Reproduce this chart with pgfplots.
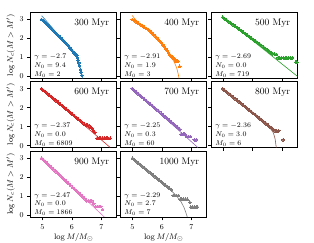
\documentclass[border=0pt]{standalone}
\usepackage{pgfplots}
\pgfplotsset{compat=1.18}
\definecolor{c0}{HTML}{1F77B4}
\definecolor{c1}{HTML}{FF7F0E}
\definecolor{c2}{HTML}{2CA02C}
\definecolor{c3}{HTML}{D62728}
\definecolor{c4}{HTML}{9467BD}
\definecolor{c5}{HTML}{8C564B}
\definecolor{c6}{HTML}{E377C2}
\definecolor{c7}{HTML}{7F7F7F}
\pgfplotsset{
  panel/.style={scale only axis, width=86pt, height=66pt, anchor=north west,
    xmin=4.6, xmax=7.52, ymin=-0.1, ymax=3.38,
    xtick={5,6,7}, ytick={0,1,2,3},
    xtick pos=bottom, ytick pos=left, tick align=outside,
    major tick length=3.5pt, tick style={black, line width=0.6pt},
    axis line style={line width=0.6pt, black},
    ticklabel style={font=\fontsize{7.5}{8}\selectfont},
    label style={font=\fontsize{8}{9}\selectfont},
    xticklabels={}, yticklabels={}},
  ylab/.style={yticklabels={0,1,2,3}, ylabel={$\log N_c(M>M')$}, ylabel style={yshift=-2pt}},
  xlab/.style={xticklabels={5,6,7}, xlabel={$\log M/M_\odot$}, xlabel style={yshift=3pt}},
  pts/.style={only marks, color=#1, mark=*, mark size=1.4pt, mark options={draw=#1, fill=#1, line width=0pt}},
  fit/.style={no marks, line width=0.6pt, color=#1},
}
\newcommand{\ann}[4]{%
  \node[anchor=south west, align=left, inner sep=1pt, font=\fontsize{7.5}{8.8}\selectfont] at (rel axis cs:0.03,0.0) {$\gamma=#1$\\$N_0=#2$\\$M_0=#3$};
  \node[anchor=east, inner sep=0pt, font=\fontsize{9.5}{10}\selectfont] at (rel axis cs:0.915,0.83) {#4 Myr};}
\begin{document}
\begin{tikzpicture}
% 300
\begin{axis}[panel, ylab, at={(30.7pt,-12.3pt)}]
\addplot[pts=c0] coordinates {(4.97,3.00)(5.02,2.94)(5.07,2.87)(5.12,2.79)(5.17,2.72)(5.22,2.64)(5.27,2.57)(5.32,2.49)(5.37,2.41)(5.43,2.32)(5.49,2.23)(5.55,2.14)(5.61,2.05)(5.67,1.96)(5.73,1.86)(5.78,1.78)(5.83,1.70)(5.88,1.61)(5.93,1.52)(5.98,1.42)(6.03,1.32)(6.07,1.24)(6.11,1.17)(6.14,1.13)(6.17,1.10)(6.19,0.98)(6.21,0.85)(6.23,0.71)(6.26,0.55)(6.29,0.36)(6.31,0.22)(6.34,0.05)};
\addplot[fit=c0] coordinates {(4.97,3.20)(5.1,2.98)(5.3,2.62)(5.5,2.25)(5.7,1.90)(5.9,1.55)(6.05,1.27)(6.15,1.02)(6.22,0.75)(6.28,0.45)(6.33,0.1)(6.36,-0.1)};
\ann{-2.7}{9.4}{2}{300}
\end{axis}
% 400
\begin{axis}[panel, at={(120.7pt,-12.3pt)}]
\addplot[pts=c1] coordinates {(4.99,3.00)(5.06,2.94)(5.13,2.87)(5.20,2.80)(5.27,2.73)(5.34,2.66)(5.41,2.59)(5.47,2.53)(5.53,2.47)(5.59,2.41)(5.65,2.32)(5.71,2.22)(5.77,2.13)(5.83,2.03)(5.88,1.95)(5.93,1.86)(5.98,1.78)(6.03,1.68)(6.08,1.57)(6.13,1.46)(6.18,1.35)(6.22,1.25)(6.26,1.16)(6.30,1.10)(6.34,1.04)(6.38,0.98)(6.43,0.93)(6.46,0.80)(6.50,0.80)(6.54,0.80)(6.60,0.53)};
\addplot[fit=c1] coordinates {(4.99,3.21)(5.1,3.0)(5.25,2.78)(5.45,2.53)(5.65,2.3)(5.85,2.0)(6.05,1.62)(6.2,1.3)(6.32,1.02)(6.42,0.75)(6.5,0.45)(6.55,0.15)(6.58,-0.1)};
\ann{-2.91}{1.9}{3}{400}
\end{axis}
% 500
\begin{axis}[panel, at={(211.5pt,-12.3pt)}]
\addplot[pts=c2] coordinates {(4.98,3.12)(5.05,3.04)(5.12,2.96)(5.19,2.88)(5.26,2.80)(5.33,2.73)(5.40,2.65)(5.47,2.57)(5.54,2.49)(5.61,2.41)(5.68,2.33)(5.75,2.25)(5.82,2.17)(5.89,2.09)(5.96,2.01)(6.03,1.93)(6.10,1.85)(6.17,1.77)(6.24,1.69)(6.31,1.61)(6.38,1.53)(6.45,1.45)(6.52,1.37)(6.58,1.30)(6.63,1.22)(6.68,1.20)(6.74,1.18)(6.80,1.16)(6.86,0.98)(6.92,0.98)(6.98,0.98)(7.04,0.98)(7.10,0.98)(7.16,0.98)(7.22,0.98)(7.28,0.98)(7.34,0.98)(7.46,0.75)(7.50,0.75)};
\addplot[fit=c2] coordinates {(4.98,3.15)(7.52,0.0)};
\ann{-2.69}{0.0}{719}{500}
\end{axis}
% 600
\begin{axis}[panel, ylab, at={(30.7pt,-81.5pt)}]
\addplot[pts=c3] coordinates {(4.97,3.00)(5.04,2.91)(5.11,2.82)(5.18,2.73)(5.25,2.64)(5.32,2.55)(5.39,2.46)(5.46,2.37)(5.53,2.28)(5.60,2.19)(5.67,2.10)(5.74,2.01)(5.81,1.92)(5.88,1.83)(5.95,1.74)(6.02,1.65)(6.09,1.56)(6.16,1.47)(6.23,1.38)(6.30,1.29)(6.37,1.20)(6.43,1.12)(6.48,1.10)(6.53,1.08)(6.58,1.05)(6.63,0.97)(6.68,0.92)(6.73,0.78)(6.78,0.70)(6.86,0.39)(6.92,0.39)(6.98,0.39)(7.04,0.39)(7.10,0.39)(7.16,0.39)(7.22,0.39)(7.30,0.39)};
\addplot[fit=c3] coordinates {(4.97,3.0)(7.3,-0.1)};
\ann{-2.37}{0.0}{6809}{600}
\end{axis}
% 700
\begin{axis}[panel, at={(120.7pt,-81.5pt)}]
\addplot[pts=c4] coordinates {(4.99,3.00)(5.06,2.91)(5.13,2.82)(5.20,2.72)(5.27,2.63)(5.34,2.54)(5.41,2.44)(5.48,2.35)(5.55,2.26)(5.62,2.17)(5.69,2.07)(5.76,1.98)(5.83,1.89)(5.90,1.80)(5.97,1.70)(6.04,1.61)(6.11,1.52)(6.18,1.42)(6.25,1.33)(6.32,1.24)(6.39,1.15)(6.46,1.05)(6.53,0.96)(6.60,0.87)(6.66,0.60)(6.72,0.60)(6.78,0.60)(6.84,0.48)(6.90,0.48)(6.96,0.48)(7.10,0.30)(7.16,0.30)};
\addplot[fit=c4] coordinates {(4.99,3.0)(7.22,-0.1)};
\ann{-2.25}{0.3}{60}{700}
\end{axis}
% 800
\begin{axis}[panel, at={(211.5pt,-81.5pt)}]
\addplot[pts=c5] coordinates {(4.98,3.00)(5.05,2.91)(5.12,2.82)(5.19,2.74)(5.26,2.65)(5.33,2.56)(5.40,2.47)(5.47,2.39)(5.54,2.30)(5.61,2.21)(5.68,2.12)(5.75,2.04)(5.82,1.95)(5.89,1.86)(5.96,1.77)(6.03,1.69)(6.10,1.60)(6.17,1.51)(6.24,1.42)(6.31,1.34)(6.38,1.25)(6.45,1.16)(6.52,1.07)(6.58,0.99)(6.64,0.95)(6.70,0.85)(6.76,0.78)(6.82,0.78)(6.88,0.78)(7.03,0.30)};
\addplot[fit=c5] coordinates {(4.98,3.02)(5.5,2.37)(6.0,1.73)(6.3,1.33)(6.5,1.05)(6.6,0.9)(6.7,0.68)(6.76,0.35)(6.79,0.0)(6.80,-0.1)};
\ann{-2.36}{3.0}{6}{800}
\end{axis}
% 900
\begin{axis}[panel, ylab, xlab, at={(30.7pt,-151pt)}]
\addplot[pts=c6] coordinates {(4.97,3.00)(5.04,2.90)(5.11,2.80)(5.18,2.69)(5.25,2.59)(5.32,2.49)(5.39,2.39)(5.46,2.29)(5.53,2.19)(5.60,2.08)(5.67,1.98)(5.74,1.88)(5.81,1.78)(5.88,1.68)(5.95,1.58)(6.02,1.47)(6.09,1.37)(6.16,1.27)(6.23,1.17)(6.30,1.07)(6.37,0.97)(6.44,0.87)(6.50,0.75)(6.56,0.75)(6.62,0.75)(6.68,0.75)(6.74,0.60)(6.80,0.45)(6.86,0.45)(6.92,0.45)(6.98,0.45)(7.04,0.30)};
\addplot[fit=c6] coordinates {(4.97,3.02)(7.1,-0.1)};
\ann{-2.47}{0.0}{1866}{900}
\end{axis}
% 1000
\begin{axis}[panel, xlab, at={(120.7pt,-151pt)}]
\addplot[pts=c7] coordinates {(5.00,3.00)(5.07,2.91)(5.14,2.82)(5.21,2.73)(5.28,2.64)(5.35,2.55)(5.42,2.46)(5.49,2.37)(5.56,2.28)(5.63,2.19)(5.70,2.10)(5.77,2.01)(5.84,1.93)(5.91,1.84)(5.98,1.75)(6.05,1.66)(6.12,1.58)(6.18,1.50)(6.25,1.41)(6.32,1.33)(6.38,1.03)(6.44,1.03)(6.50,1.03)(6.56,1.03)(6.62,0.83)(6.68,0.83)(6.74,0.83)(6.80,0.83)(6.86,0.83)(6.95,0.67)(6.98,0.42)(7.04,0.42)(7.10,0.42)(7.16,0.42)(7.20,0.42)};
\addplot[fit=c7] coordinates {(5.0,3.02)(5.5,2.38)(6.0,1.73)(6.3,1.32)(6.5,1.0)(6.65,0.7)(6.75,0.4)(6.82,0.1)(6.86,-0.1)};
\ann{-2.29}{2.7}{7}{1000}
\end{axis}
\pgfresetboundingbox
\path[use as bounding box] (0,0) rectangle (314pt,-243pt);
\end{tikzpicture}
\end{document}
